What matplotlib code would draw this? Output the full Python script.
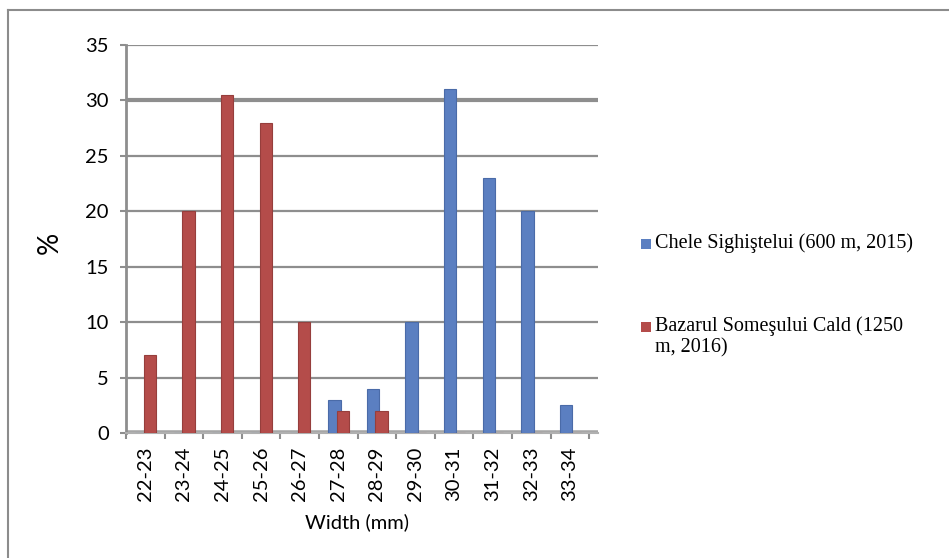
import matplotlib

matplotlib.use("Agg")

import matplotlib.pyplot as plt  # noqa: E402
import numpy as np  # noqa: E402
from matplotlib.lines import Line2D  # noqa: E402
from matplotlib.patches import Rectangle  # noqa: E402

# ─── Data ────────────────────────────────────────────────────────────────────

categories = ["22-23", "23-24", "24-25", "25-26", "26-27", "27-28",
              "28-29", "29-30", "30-31", "31-32", "32-33", "33-34"]
chele = [0, 0, 0, 0, 0, 3, 4, 10, 31, 23, 20, 2.5]
bazarul = [7, 20, 30.5, 28, 10, 2, 2, 0, 0, 0, 0, 0]
series_names = ["Chele Sighiştelui (600 m, 2015)",
                "Bazarul Someşului Cald (1250\nm, 2016)"]

BLUE = "#5B7FC1"
RED = "#B44C4A"
GRID = "#8E8E8E"

fig = plt.figure(figsize=(9.49, 5.58), dpi=100)
ax = fig.add_axes([126 / 949, 1 - 433 / 558, (598 - 126) / 949, (433 - 45) / 558])

x = np.arange(len(categories))
w = 0.32
ax.bar(x - 0.10, chele, width=w, color=BLUE, edgecolor="#4A6BA8",
       linewidth=0.8, zorder=3)
ax.bar(x + 0.12, bazarul, width=w, color=RED, edgecolor="#963E3C",
       linewidth=0.8, zorder=4)

ax.set_xlim(-0.5, 11.73)
ax.set_ylim(0, 35)

# gridlines (back wall look)
for v in range(5, 36, 5):
    ax.axhline(v, color=GRID, lw=3.0 if v == 30 else 1.6, zorder=1)
ax.axhline(0, color="#A6A6A6", lw=4, zorder=2)

ax.set_yticks(range(0, 36, 5))
ax.set_xticks(np.arange(-0.5, 12, 1), minor=False)
ax.set_xticklabels([])
ax.set_xticks(x, minor=True)
ax.set_xticklabels(categories, minor=True, rotation=90,
                   fontsize=14.5, family="Lato")
ax.tick_params(axis="x", which="minor", length=0, pad=10)
ax.tick_params(axis="x", which="major", length=4.5, width=1.5, color=GRID,
               direction="out")
ax.tick_params(axis="y", length=4.5, width=1.5, color=GRID, direction="out",
               labelsize=14.5, pad=8)
for lbl in ax.get_yticklabels():
    lbl.set_family("Lato")

for side in ["top", "right"]:
    ax.spines[side].set_visible(False)
ax.spines["left"].set_color(GRID)
ax.spines["left"].set_linewidth(2)
ax.spines["bottom"].set_color("#B0B0B0")
ax.spines["bottom"].set_linewidth(1.5)

fig.text(50 / 949, 1 - 243 / 558, "%", rotation=90, fontsize=20,
         family="Lato", ha="center", va="center")
fig.text(357 / 949, 1 - 522 / 558, "Width (mm)", fontsize=14.5,
         family="Lato", ha="center", va="center")

# legend drawn by hand to match the wide spacing
legend_rows = [(BLUE, 244), (RED, 327)]
for (col, yc), name in zip(legend_rows, series_names):
    fig.add_artist(Rectangle((641 / 949, 1 - (yc + 5) / 558), 10 / 949,
                             10 / 558, transform=fig.transFigure,
                             facecolor=col, edgecolor="none"))
    fig.text(655 / 949, 1 - (yc - 11) / 558, name, fontsize=14.5,
             family="Liberation Serif", ha="left", va="top",
             linespacing=1.15)

# chart area border (left and top edges visible)
fig.add_artist(Line2D([7.5 / 949, 7.5 / 949], [0, 1 - 9.5 / 558],
                      transform=fig.transFigure, color="#8C8C8C", lw=1.5))
fig.add_artist(Line2D([7.5 / 949, 1], [1 - 9.5 / 558, 1 - 9.5 / 558],
                      transform=fig.transFigure, color="#8C8C8C", lw=1.5))

fig.savefig("out.png", dpi=100)
plt.close(fig)
